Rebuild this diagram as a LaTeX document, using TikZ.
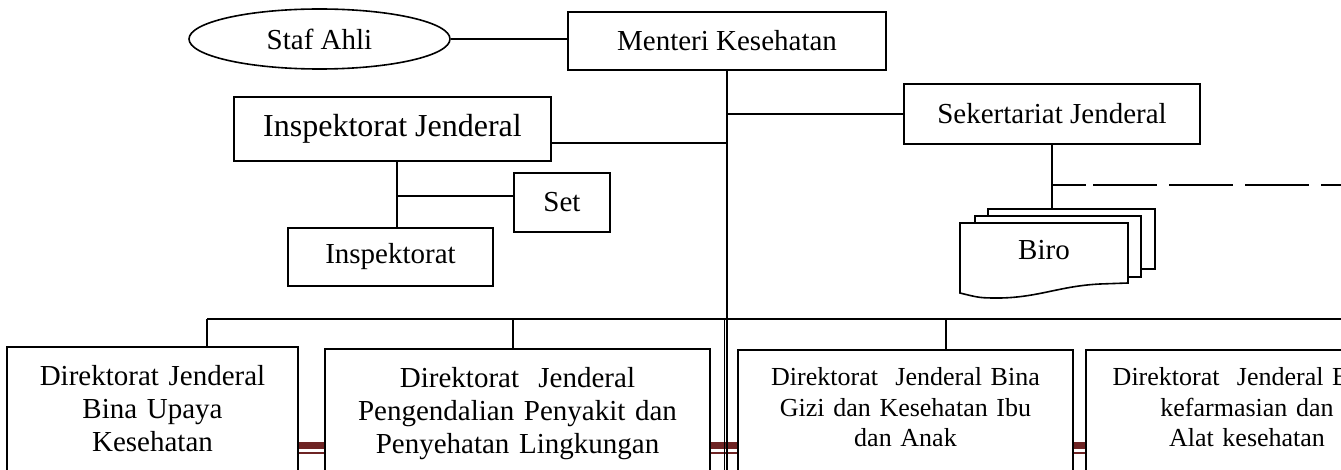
\documentclass[tikz,border=0pt]{standalone}
\usepackage{fontspec}
\setmainfont{Liberation Serif}
\usetikzlibrary{calc, positioning, backgrounds, shapes.geometric}
\definecolor{barred}{RGB}{110,36,36}

\begin{document}
\begin{tikzpicture}[x=1pt, y=-1pt, font=\fontsize{29}{33}\selectfont,
	box/.style={draw, line width=1.6pt, inner sep=0pt},
	dbox/.style={box, anchor=north, align=center, inner xsep=0pt, text depth=130pt},
	l_2/.style={line width=1.4pt},
	l_1/.style={line width=0.9pt}]
	\useasboundingbox (0,0) rectangle (1341,470);
	\clip (0,0) rectangle (1341,470);
	% top row
	\node[box, ellipse, minimum width=261pt, minimum height=60pt] (staf) at (319.5,39) {Staf Ahli};
	\node[box, minimum width=318pt, minimum height=58pt] (menkes) at (727,41) {Menteri Kesehatan};
	\node[box, minimum width=317pt, minimum height=64pt, font=\fontsize{32}{36}\selectfont] (itjen) at (392.5,129) {Inspektorat Jenderal};
	\node[box, minimum width=296pt, minimum height=60pt] (sekjen) at (1052,114) {Sekertariat Jenderal};
	\node[box, minimum width=96pt, minimum height=59pt] (set) at (562,202.5) {Set};
	\node[box, minimum width=205pt, minimum height=58pt] (insp) at (390.5,257) {Inspektorat};
	\draw[l_2] (staf.east) -- (staf.east -| menkes.west);
	\draw[l_2] (menkes.south) -- (menkes.south |- 0,475);
	\draw[l_2] (sekjen.west) -- (sekjen.west -| menkes.south);
	\draw[l_2] ([yshift=-14pt]itjen.east) coordinate (ij_r) -- (ij_r -| menkes.south);
	% itjen
	\coordinate (ij_d) at (397,161);
	\draw[l_2] (ij_d) -- (ij_d |- insp.north);
	\draw[l_2] ([yshift=6.5pt]set.west) coordinate (set_l) -- (set_l -| ij_d);
	% biro
	\node[box, fill=white, minimum width=167pt, minimum height=60pt, anchor=north west] (biro_c) at (987,208) {};
	\node[box, fill=white, minimum width=166pt, minimum height=61pt, anchor=north west] (biro_b) at (974,215) {};
	\draw[line width=1.6pt, fill=white] (960,223) -- (1128,223) -- (1128,283) -- (1100,284)
		.. controls (1060,286) and (1040,297) .. (1001,298) .. controls (980,298) .. (960,293) -- cycle;
	\node (biro) at (1044,250) {Biro};
	\draw[l_2] (sekjen.south) -- (sekjen.south |- biro_c.north);
	\coordinate (sj) at (sekjen.south |- 0,185);
	\coordinate (sj_end) at (1345,185);
	\draw[l_2] (sj) -- ++(34,0);
	\draw[l_2, dash pattern=on 64pt off 12pt] ([xshift=41pt]sj) -- (sj_end);
	% direktorat jenderal
	\node[dbox, text width=291pt, inner ysep=19pt] (dj1) at (152.5,346) {Direktorat Jenderal\\Bina Upaya\\Kesehatan};
	\node[dbox, text width=385pt, inner ysep=19pt] (dj2) at (517.5,348) {Direktorat~ Jenderal\\Pengendalian Penyakit dan\\Penyehatan Lingkungan};
	\node[dbox, text width=335pt, inner ysep=18pt, font=\fontsize{26}{30.5}\selectfont] (dj3) at (905.5,349) {Direktorat~ Jenderal Bina\\Gizi dan Kesehatan Ibu\\dan Anak};
	\node[dbox, text width=322pt, inner ysep=18pt, font=\fontsize{26}{30.5}\selectfont] (dj4) at (1247,349) {Direktorat~ Jenderal Bina\\kefarmasian dan\\Alat kesehatan};
	\coordinate (bus_l) at (207,319);
	\coordinate (bus_r) at (1345,319);
	\draw[l_2] (bus_l) -- (bus_r);
	\foreach \x/\b in {207/dj1, 513/dj2, 946/dj3}
		\draw[l_2] (\x,319) -- (\x,319 |- \b.north);
	\draw[l_1] ([xshift=-3pt]menkes.south |- bus_l) -- ++(0,160);
	\begin{scope}[on background layer]
		\foreach \a/\b in {dj1/dj2, dj2/dj3, dj3/dj4} {
			\fill[barred] (\a.north east |- 0,442) rectangle (\b.north west |- 0,449);
			\fill[barred] (\a.north east |- 0,451.5) rectangle (\b.north west |- 0,453.5);
		}
	\end{scope}
\end{tikzpicture}
\end{document}
